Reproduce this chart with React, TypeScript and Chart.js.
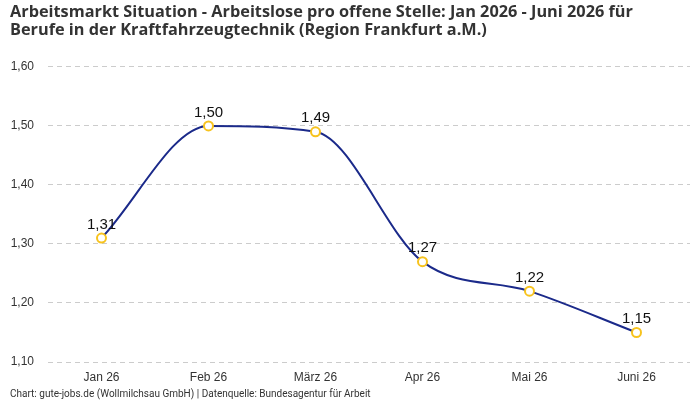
import React, { useEffect, useRef } from "react";
import { Chart, registerables } from "chart.js";

Chart.register(...registerables);

const months = ["Jan 26", "Feb 26", "März 26", "Apr 26", "Mai 26", "Juni 26"];
const ratio = [1.31, 1.5, 1.49, 1.27, 1.22, 1.15];
const yTicks = [1.1, 1.2, 1.3, 1.4, 1.5, 1.6];

const titleLines = [
  "Arbeitsmarkt Situation - Arbeitslose pro offene Stelle: Jan 2026 - Juni 2026 für",
  "Berufe in der Kraftfahrzeugtechnik (Region Frankfurt a.M.)",
];
const sourceNote =
  "Chart: gute-jobs.de (Wollmilchsau GmbH) | Datenquelle: Bundesagentur für Arbeit";

const fmt = (v: number) => v.toFixed(2).replace(".", ",");

// Writes each value just above its point
const valueLabels = {
  id: "valueLabels",
  afterDatasetsDraw(chart: any) {
    const ctx = chart.ctx;
    const meta = chart.getDatasetMeta(0);
    ctx.save();
    ctx.font = "15px 'Liberation Sans', Arial, sans-serif";
    ctx.fillStyle = "#111111";
    ctx.textAlign = "center";
    ctx.textBaseline = "bottom";
    meta.data.forEach((pt: any, i: number) => {
      ctx.fillText(fmt(ratio[i]), pt.x, pt.y - 6);
    });
    ctx.restore();
  },
};

export default function App() {
  const ref = useRef<HTMLCanvasElement | null>(null);

  useEffect(() => {
    if (!ref.current) return;
    const chart = new Chart(ref.current, {
      type: "line",
      data: {
        labels: months,
        datasets: [
          {
            data: ratio,
            borderColor: "#1b2a8a",
            borderWidth: 2,
            cubicInterpolationMode: "monotone",
            pointBackgroundColor: "#ffffff",
            pointBorderColor: "#f7c31e",
            pointBorderWidth: 2,
            pointRadius: 4.5,
            fill: false,
          },
        ],
      },
      options: {
        animation: false,
        responsive: false,
        layout: { padding: { left: 10, right: 10, top: 0, bottom: 0 } },
        plugins: {
          legend: { display: false },
          tooltip: { enabled: false },
          title: {
            display: true,
            text: titleLines,
            align: "start",
            color: "#333333",
            font: { family: "'Open Sans', Roboto, sans-serif", size: 16.3, weight: "bold", lineHeight: 1.1 },
            padding: { top: 3, bottom: 28 },
          },
          subtitle: {
            display: true,
            text: sourceNote,
            position: "bottom",
            align: "start",
            color: "#333333",
            font: { family: "Roboto, 'Open Sans', sans-serif", size: 10 },
            padding: { top: 2, bottom: 0 },
          },
        },
        scales: {
          x: {
            offset: true,
            afterFit: (axis: any) => {
              axis.height = 24;
            },
            grid: { display: false, drawTicks: false },
            border: { display: false },
            ticks: {
              color: "#333333",
              font: { family: "'Liberation Sans', Arial, sans-serif", size: 12 },
              padding: 8,
            },
          },
          y: {
            min: 1.1,
            max: 1.6,
            afterBuildTicks: (axis: any) => {
              axis.ticks = yTicks.map((v) => ({ value: v }));
            },
            afterFit: (axis: any) => {
              axis.width = 38;
            },
            grid: { color: "#cccccc", drawTicks: false },
            border: { display: false, dash: [5, 4] },
            ticks: {
              color: "#333333",
              font: { family: "'Liberation Sans', Arial, sans-serif", size: 12 },
              padding: 14,
              callback: (v: any) => fmt(Number(v)),
            },
          },
        },
      },
      plugins: [valueLabels],
    });
    return () => chart.destroy();
  }, []);

  return (
    <div style={{ position: "fixed", left: 0, top: 0, width: 700, height: 400, background: "#fff" }}>
      <canvas ref={ref} width={700} height={400} />
    </div>
  );
}
